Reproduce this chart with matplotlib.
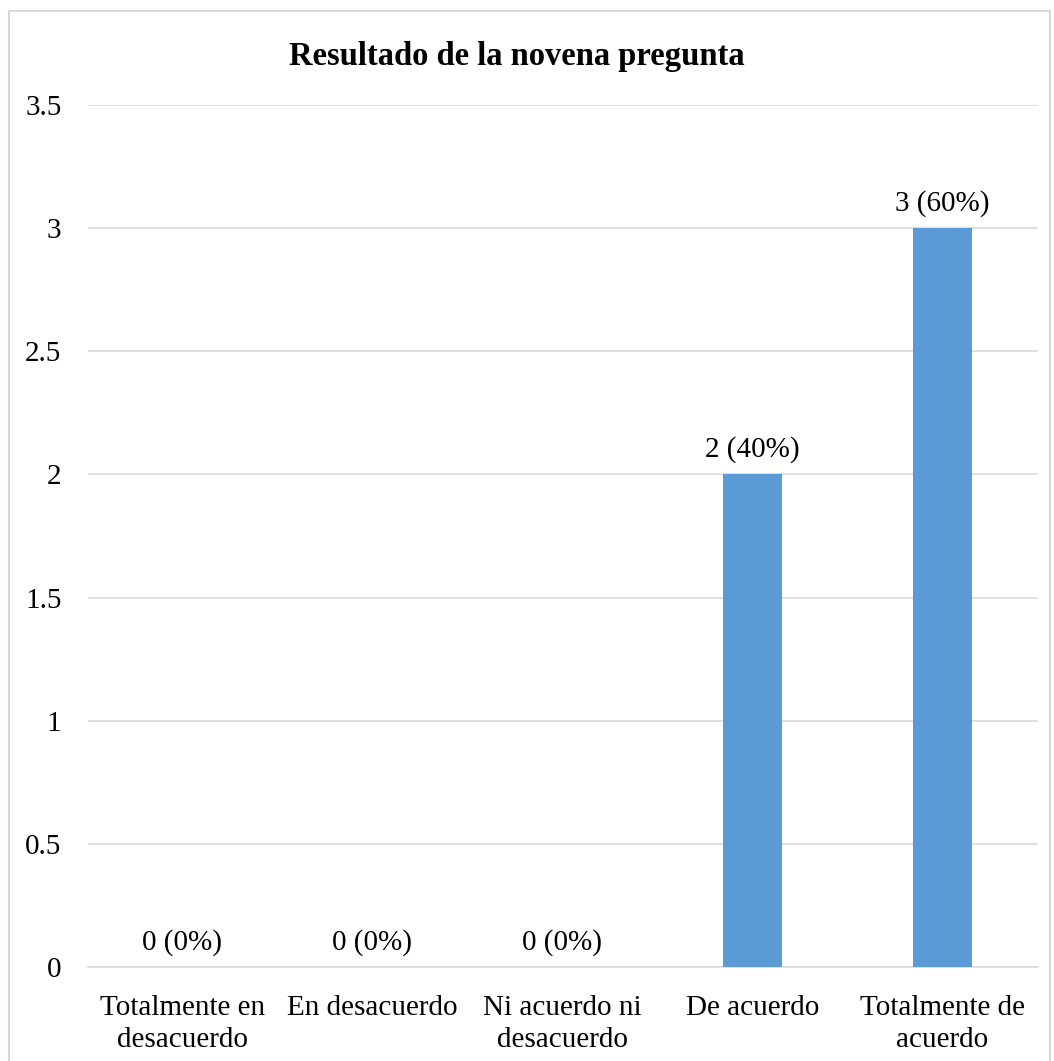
import matplotlib
matplotlib.use("Agg")
import matplotlib.pyplot as plt
from matplotlib.patches import Rectangle

categories = ["Totalmente en\ndesacuerdo", "En desacuerdo", "Ni acuerdo ni\ndesacuerdo", "De acuerdo", "Totalmente de\nacuerdo"]
values = [0, 0, 0, 2, 3]
labels = ["0 (0%)", "0 (0%)", "0 (0%)", "2 (40%)", "3 (60%)"]
yticks = [0, 0.5, 1, 1.5, 2, 2.5, 3, 3.5]
ytick_labels = ["0", "0.5", "1", "1.5", "2", "2.5", "3", "3.5"]
title = "Resultado de la novena pregunta"

plt.rcParams['font.family'] = ['Liberation Serif', 'DejaVu Serif']

fig = plt.figure(figsize=(10.54, 10.61), dpi=100)
ax = fig.add_axes([87.5/1054, 1 - 967/1061, 950/1054, (967-105)/1061])

x = list(range(len(categories)))
bars = ax.bar(x, values, width=0.31, color="#5B9BD5", zorder=3)
for xi, v, lab in zip(x, values, labels):
    ax.text(xi, v + 0.045, lab, ha="center", va="bottom", fontsize=21, color="#000000")

ax.set_xlim(-0.5, len(categories) - 0.5)
ax.set_ylim(0, 3.5)
ax.set_yticks(yticks)
ax.set_yticklabels(ytick_labels, fontsize=21)
ax.set_xticks(x)
ax.set_xticklabels(categories, fontsize=21, linespacing=1.3)
ax.tick_params(axis="both", length=0)
ax.tick_params(axis="y", pad=18.7)
ax.tick_params(axis="x", pad=20.5)
ax.grid(axis="y", color="#D9D9D9", linewidth=1.2, zorder=0)
for s in ["top", "right", "left"]:
    ax.spines[s].set_visible(False)
ax.spines["bottom"].set_color("#D9D9D9")
ax.spines["bottom"].set_linewidth(1.2)

fig.text(517/1054, 1 - 65/1061, title, ha="center", va="baseline", fontsize=23.5, fontweight="bold")

border = Rectangle((8.5/1054, -0.05), (1050-8.5)/1054, 1 - 11.5/1061 + 0.05,
                   transform=fig.transFigure, fill=False, edgecolor="#D9D9D9",
                   linewidth=1.5, clip_on=False)
fig.patches.append(border)

fig.savefig("out.png", dpi=100)
